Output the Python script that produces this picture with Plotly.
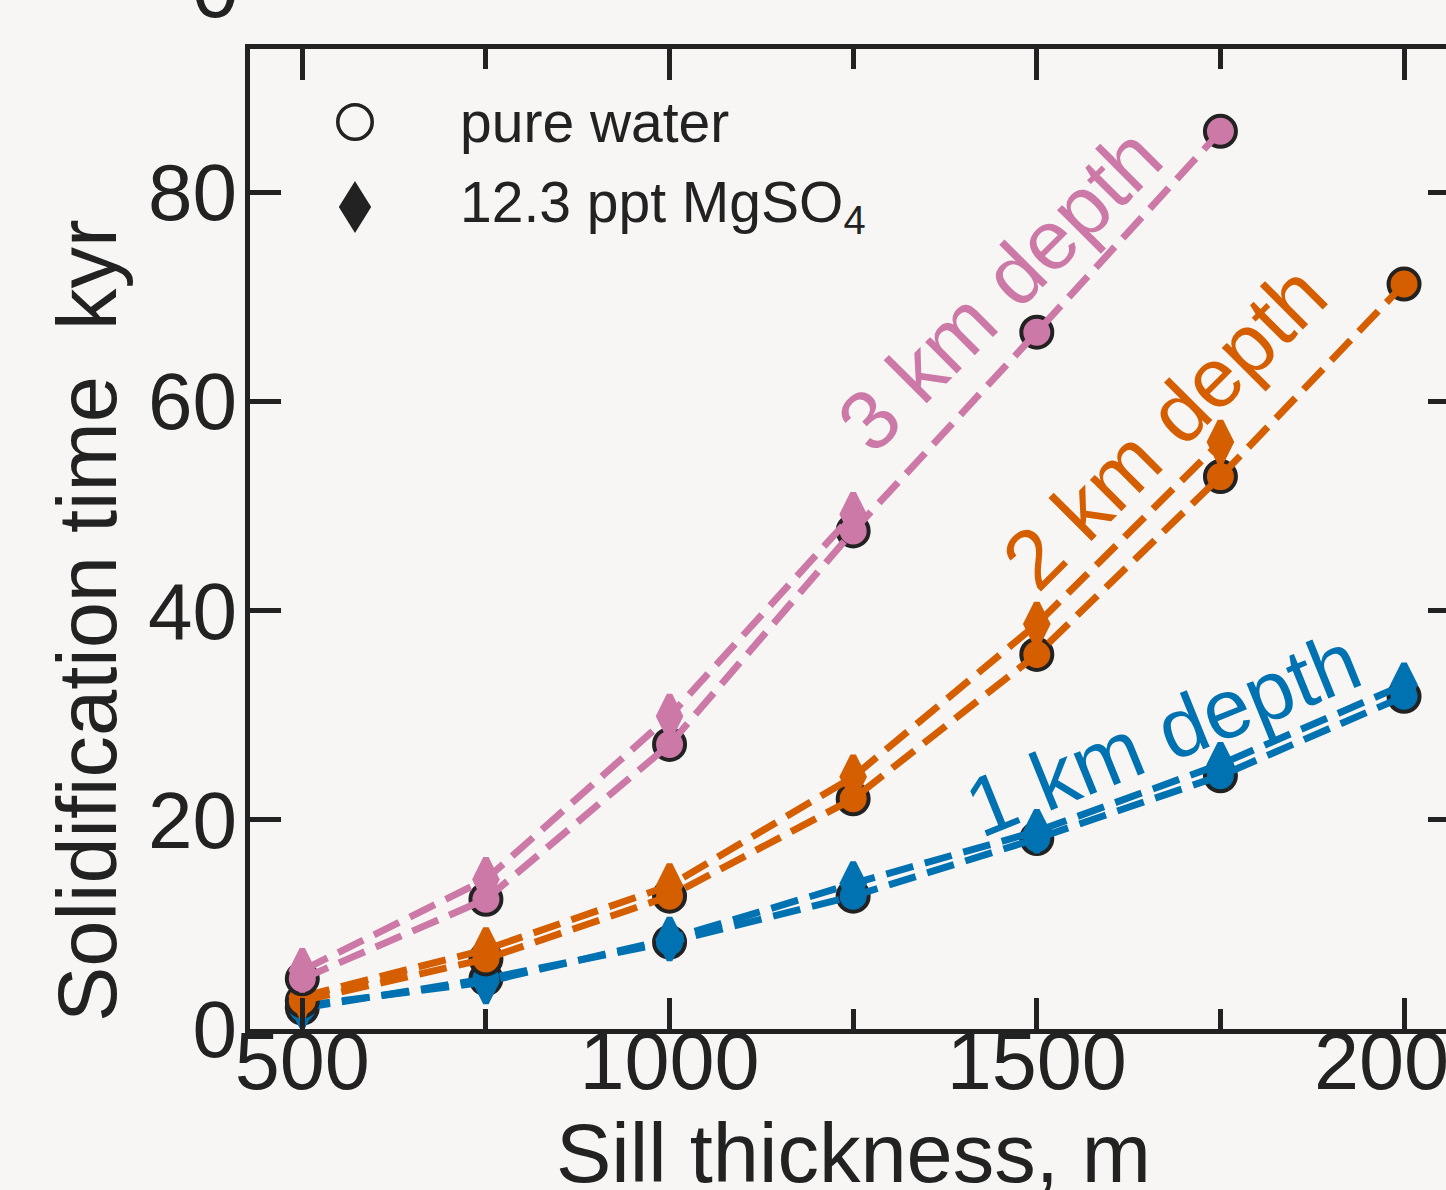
import plotly.graph_objects as go

# ---------------- data ----------------
thickness = [500, 750, 1000, 1250, 1500, 1750, 2000]

water_1km = [2.0, 4.8, 8.3, 12.7, 18.2, 24.2, 31.8]
water_2km = [2.7, 6.7, 12.7, 22.0, 35.8, 52.8, 71.2]
water_3km = [4.8, 12.4, 27.2, 47.6, 66.6, 85.8, None]

mgso4_1km = [2.2, 4.5, 8.6, 13.9, 18.9, 25.3, 32.9]
mgso4_2km = [3.1, 7.6, 13.7, 24.1, 38.7, 56.1, None]
mgso4_3km = [5.6, 14.3, 29.9, 49.2, None, None, None]

depth_labels = ["1 km depth", "2 km depth", "3 km depth"]
depth_label_x = [1672, 1674, 1450]
depth_label_y = [28.2, 57.5, 70.7]
depth_label_angle = [-22, -45, -45]

legend_labels = ["pure water", "12.3 ppt MgSO<sub>4</sub>"]

x_ticks = [500, 1000, 1500, 2000]
x_minor_ticks = [750, 1250, 1750]
y_ticks = [0, 20, 40, 60, 80]

# ---------------- style ----------------
BG = "#f7f6f4"
INK = "#222222"
COLORS = ["#0072b2", "#d55e00", "#cc79a7"]
FONT = "Liberation Sans, Arial, Helvetica, sans-serif"

W, H = 1446, 1190
ML, MR, MT, MB = 250, 0, 49, H - 1029
PW, PH = W - ML - MR, H - MT - MB


def px_x(px):
    return (px - ML) / PW


def px_y(py):
    return (H - MB - py) / PH


water = [water_1km, water_2km, water_3km]
mgso4 = [mgso4_1km, mgso4_2km, mgso4_3km]

fig = go.Figure()
for i in range(3):
    c = COLORS[i]
    fig.add_trace(go.Scatter(
        x=thickness, y=water[i], mode="markers", showlegend=False,
        marker=dict(symbol="circle", size=31, color=c, line=dict(color=INK, width=4))))
    fig.add_trace(go.Scatter(
        x=thickness, y=mgso4[i], mode="markers", showlegend=False,
        marker=dict(symbol="diamond-tall", size=30, color=c, line=dict(color=c, width=6))))
    fig.add_trace(go.Scatter(
        x=thickness, y=water[i], mode="lines", showlegend=False,
        line=dict(color=c, width=7, dash="28px,12px")))
    fig.add_trace(go.Scatter(
        x=thickness, y=mgso4[i], mode="lines", showlegend=False,
        line=dict(color=c, width=7, dash="28px,12px")))

# empty trace so the right-hand tick axis is drawn
fig.add_trace(go.Scatter(x=[], y=[], yaxis="y2", showlegend=False, hoverinfo="skip"))

annotations = []
for lab, ax_, ay_, ang, c in zip(depth_labels, depth_label_x, depth_label_y,
                                 depth_label_angle, COLORS):
    annotations.append(dict(x=ax_, y=ay_, xref="x", yref="y", text=lab,
                            textangle=ang, showarrow=False,
                            font=dict(family=FONT, size=84, color=c)))

# legend text
LEG_TEXT_X = 458
LEG_ROWS_Y = [122, 206]
for lab, ry in zip(legend_labels, LEG_ROWS_Y):
    annotations.append(dict(x=px_x(LEG_TEXT_X), y=px_y(ry), xref="paper", yref="paper",
                            text=lab, showarrow=False, xanchor="left", yanchor="middle",
                            font=dict(family=FONT, size=57, color=INK)))

# axis titles
annotations.append(dict(x=px_x(853), y=px_y(1153), xref="paper", yref="paper",
                        text="Sill thickness, m", showarrow=False,
                        xanchor="center", yanchor="middle",
                        font=dict(family=FONT, size=83, color=INK)))
annotations.append(dict(x=px_x(87), y=px_y(621), xref="paper", yref="paper",
                        text="Solidification time\u00a0\u00a0kyr", showarrow=False,
                        textangle=-90, xanchor="center", yanchor="middle",
                        font=dict(family=FONT, size=83, color=INK)))
# clipped label of panel above
annotations.append(dict(x=px_x(215), y=px_y(-12), xref="paper", yref="paper",
                        text="0", showarrow=False, xanchor="center", yanchor="middle",
                        font=dict(family=FONT, size=84, color=INK)))

# legend keys as shapes
LEG_KEY_X = 355
r_c = 17.2
shapes = [
    dict(type="circle", xref="paper", yref="paper",
         x0=px_x(LEG_KEY_X - r_c), x1=px_x(LEG_KEY_X + r_c),
         y0=px_y(LEG_ROWS_Y[0] + r_c), y1=px_y(LEG_ROWS_Y[0] - r_c),
         line=dict(color=INK, width=3.6), fillcolor="rgba(0,0,0,0)"),
]
hw, hh = 15, 24
cx, cy = LEG_KEY_X, LEG_ROWS_Y[1] + 1
path = (f"M {px_x(cx)},{px_y(cy - hh)} L {px_x(cx + hw)},{px_y(cy)} "
        f"L {px_x(cx)},{px_y(cy + hh)} L {px_x(cx - hw)},{px_y(cy)} Z")
shapes.append(dict(type="path", xref="paper", yref="paper", path=path,
                   line=dict(color=INK, width=2), fillcolor=INK))

x0 = 500 - (302.3 - ML) / 0.7345
x1 = x0 + PW / 0.7345
y1 = PH / 10.4625

fig.update_layout(
    width=W, height=H, autosize=False,
    margin=dict(l=ML, r=MR, t=MT, b=MB, pad=0, autoexpand=False),
    paper_bgcolor=BG, plot_bgcolor=BG,
    font=dict(family=FONT, size=80, color=INK),
    showlegend=False,
    annotations=annotations,
    shapes=shapes,
    xaxis=dict(range=[x0, x1], tickvals=x_ticks, ticktext=[str(v) for v in x_ticks],
               automargin=False,
               showgrid=False, zeroline=False,
               showline=True, linecolor=INK, linewidth=5, mirror="ticks",
               ticks="inside", ticklen=31, tickwidth=5, tickcolor=INK,
               ticklabeloverflow="allow", ticklabelstandoff=-42,
               minor=dict(tickvals=x_minor_ticks, ticks="inside", ticklen=20,
                          tickwidth=5, tickcolor=INK, showgrid=False),
               tickfont=dict(family=FONT, size=81, color=INK)),
    yaxis=dict(range=[0, y1], tickvals=y_ticks, ticktext=[str(v) for v in y_ticks],
               automargin=False,
               showgrid=False, zeroline=False,
               showline=True, linecolor=INK, linewidth=5, mirror=False,
               ticks="inside", ticklen=31, tickwidth=5, tickcolor=INK,
               ticklabeloverflow="allow", ticklabelstandoff=-8,
               tickfont=dict(family=FONT, size=80, color=INK)),
    yaxis2=dict(overlaying="y", side="right", matches="y", range=[0, y1],
                automargin=False,
                tickvals=y_ticks, showticklabels=False, showgrid=False,
                zeroline=False, showline=False,
                ticks="inside", ticklen=18, tickwidth=5, tickcolor=INK),
)

fig.write_html("out.html", config={"displayModeBar": False, "responsive": False},
               post_script="document.body.style.margin='0';document.body.style.overflow='hidden';")
